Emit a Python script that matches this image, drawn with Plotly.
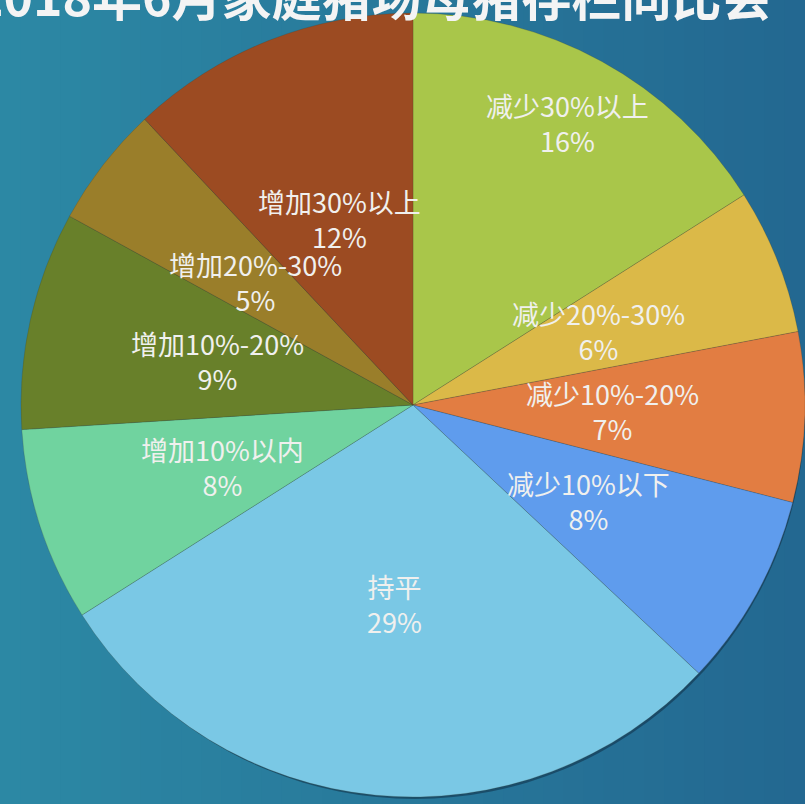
import math
import plotly.graph_objects as go

# ---- data ----
categories = ["减少30%以上", "减少20%-30%", "减少10%-20%", "减少10%以下", "持平",
              "增加10%以内", "增加10%-20%", "增加20%-30%", "增加30%以上"]
values = [16, 6, 7, 8, 29, 8, 9, 5, 12]
title_text = "2018年6月家庭猪场母猪存栏同比会"

# ---- style ----
colors = ["#a9c64a", "#dbb948", "#e27d42", "#5f9ced", "#7ac8e5",
          "#70d39f", "#68802a", "#9a7e2a", "#9c4b22"]
label_radius = [0.82, 0.51, 0.51, 0.51, 0.51, 0.51, 0.51, 0.51, 0.51]

W, H = 805, 804
cx_px, cy_px, R = 413, 405, 392

dom_x = [(cx_px - R) / W, (cx_px + R) / W]
dom_y = [1 - (cy_px + R) / H, 1 - (cy_px - R) / H]

fig = go.Figure()

# soft shadow behind the pie
sh = 4
fig.add_trace(go.Pie(
    values=[1], labels=["shadow"], sort=False, textinfo="none", hoverinfo="skip",
    marker=dict(colors=["rgba(10,30,50,0.45)"], line=dict(width=0)),
    domain=dict(x=[(cx_px - R + sh) / W, min(1.0, (cx_px + R + sh) / W)],
                y=[1 - (cy_px + R + sh) / H, 1 - (cy_px - R + sh) / H]),
    showlegend=False,
))

fig.add_trace(go.Pie(
    labels=categories, values=values, sort=False, direction="clockwise", rotation=0,
    textinfo="none", hoverinfo="label+percent",
    marker=dict(colors=colors, line=dict(color="rgba(60,60,40,0.35)", width=0.6)),
    domain=dict(x=dom_x, y=dom_y),
    showlegend=False,
))

# labels at mid-angle of each slice (computed from values)
total = sum(values)
cum = 0
annotations = []
for cat, v, f in zip(categories, values, label_radius):
    mid = (cum + v / 2) / total * 2 * math.pi
    cum += v
    px = cx_px + R * f * math.sin(mid)
    py = cy_px - R * f * math.cos(mid)
    pct = round(v / total * 100)
    annotations.append(dict(
        x=px / W, y=1 - py / H, xref="paper", yref="paper",
        text=f"{cat}<br>{pct}%", showarrow=False, xanchor="center", yanchor="middle",
        font=dict(family="Noto Sans CJK SC, Noto Sans, sans-serif", size=27, color="#f0f0ee"),
    ))

annotations.append(dict(
    x=774 / W, y=1 + 6 / H, xref="paper", yref="paper", text=title_text,
    showarrow=False, xanchor="right", yanchor="middle",
    font=dict(family="Noto Sans CJK SC, sans-serif", size=50, color="#f4f4f4", weight=700),
))

# background horizontal gradient
shapes = []
n = 40
c0 = (44, 136, 164)
c1 = (35, 104, 145)
for i in range(n):
    t = i / (n - 1)
    c = tuple(round(c0[k] + (c1[k] - c0[k]) * t) for k in range(3))
    shapes.append(dict(type="rect", xref="paper", yref="paper",
                       x0=i / n, x1=(i + 1) / n + 0.002, y0=0, y1=1,
                       fillcolor=f"rgb{c}", line=dict(width=0), layer="below"))

fig.update_layout(
    width=W, height=H, margin=dict(l=0, r=0, t=0, b=0),
    paper_bgcolor="#2a7c9e", plot_bgcolor="rgba(0,0,0,0)",
    annotations=annotations, shapes=shapes, showlegend=False,
)

fig.write_html("out.html", config={"displayModeBar": False},
               post_script="document.body.style.margin='0';document.body.style.overflow='hidden';")
